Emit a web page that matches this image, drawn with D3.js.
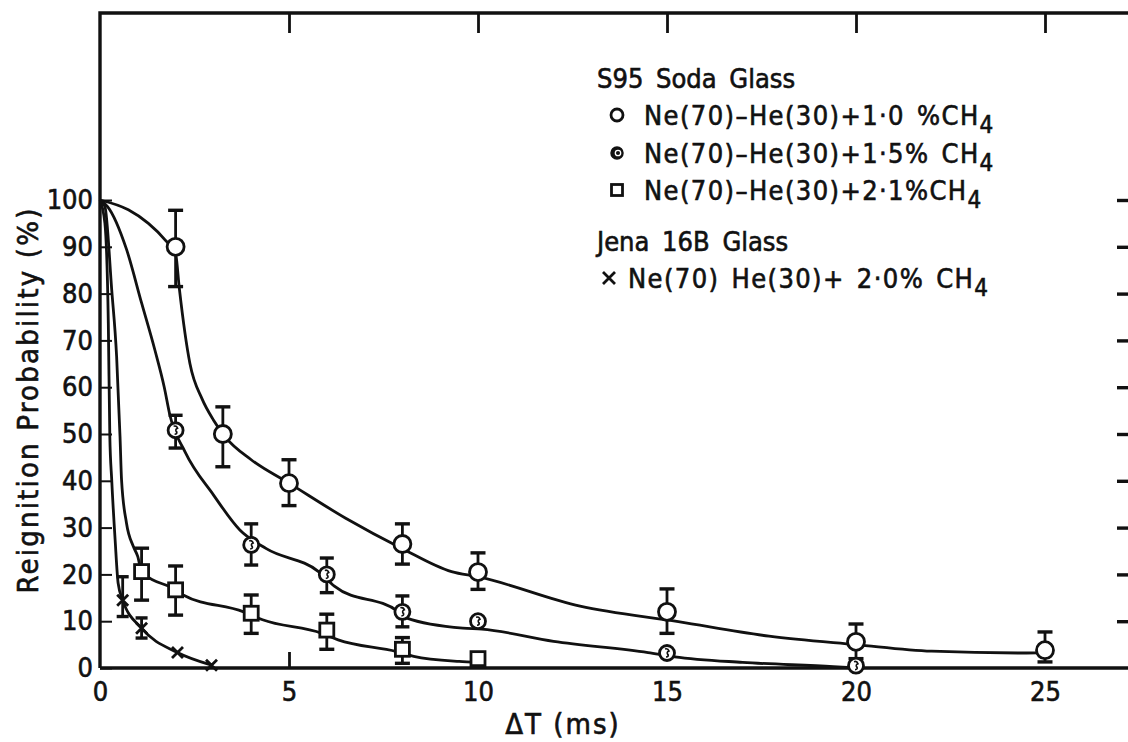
<!DOCTYPE html>
<html>
<head>
<meta charset="utf-8">
<script src="https://cdn.jsdelivr.net/npm/d3@7"></script>
<style>
  html, body { margin: 0; padding: 0; background: #fff; }
  svg { display: block; }
  text { font-family: "DejaVu Sans Condensed", "DejaVu Sans", sans-serif; font-stretch: condensed; fill: #111; stroke: #111; stroke-width: 0.6px; }
</style>
</head>
<body>
<svg id="chart" width="1128" height="742"></svg>
<script>
// ---------------- data ----------------
const xTickLabels = [0, 5, 10, 15, 20, 25];
const xTopTicks = [5, 10, 15, 20, 25];
const xBottomTicks = [5];
const yTickLabels = [0, 10, 20, 30, 40, 50, 60, 70, 80, 90, 100];
const yRightTicks = [10, 20, 30, 40, 50, 60, 70, 80, 90, 100];

// S95 soda glass, Ne(70)-He(30)+1.0% CH4  (open circles)
const s1X  = [2, 3.25, 5, 8, 10, 15, 20, 25];
const s1Y  = [90, 50, 39.5, 26.5, 20.5, 12, 5.6, 3.8];
const s1Hi = [97.8, 55.8, 44.5, 30.8, 24.6, 16.9, 9.4, 7.7];
const s1Lo = [81.5, 43, 34.7, 22.2, 16.8, 7.4, 2, 1.3];
const s1Curve = [[0,100],[0.75,97.9],[1.28,95],[1.72,91.5],[2,88.5],[2.1,81],[2.38,65],[2.7,57.5],[3,53],[3.3,49.5],[4,44.5],[5,39.5],[6.5,32],[8,25.5],[9.3,20.6],[10,19.5],[12.7,13.2],[15.3,9.9],[17.7,6.8],[20,5],[22,3.6],[24.4,3.2],[25,3.3]];

// S95 soda glass, Ne(70)-He(30)+1.5% CH4  (dotted circles)
const s2X  = [2, 4, 6, 8, 10, 15, 20];
const s2Y  = [50.8, 26.3, 20, 12, 10, 3.2, 0.5];
const s2Hi = [54, 30.8, 23.5, 15.4, null, null, null];
const s2Lo = [47, 22, 16.1, 8.8, null, null, null];
const s2Curve = [[0,100],[0.2,98.6],[0.7,89.5],[1.1,78],[1.45,68],[1.7,60],[1.85,54],[2.25,46.2],[3,37],[3.7,29.5],[4.4,25.5],[5.8,20.5],[6.2,17.5],[7.9,12],[8.1,10.7],[9.6,8.5],[10.1,8.3],[12,5.7],[14.5,3.3],[15.2,2.4],[17,1.2],[19.4,0.3],[20,0]];

// S95 soda glass, Ne(70)-He(30)+2.1% CH4  (squares)
const s3X  = [1.1, 2, 4, 6, 8, 10];
const s3Y  = [20.6, 16.7, 11.7, 8.1, 4, 2];
const s3Hi = [25.6, 21.8, 15.6, 11.5, 6.5, null];
const s3Lo = [14.5, 11.3, 7.4, 4, 1, null];
const s3Curve = [[0,100],[0.13,98.6],[0.31,80.8],[0.44,66.5],[0.53,49.4],[0.57,40.2],[0.7,31],[0.88,26],[1.0,23.8],[1.1,20.6],[2,16.7],[2.2,15.6],[3.8,12],[4.3,10.3],[5.87,7.4],[6.3,6],[7.85,3.5],[8.3,2.5],[9.5,1.4],[10,1.2]];

// Jena 16B glass, Ne(70) He(30)+2.0% CH4  (crosses)
const s4X  = [0.6, 1.1, 2.05, 2.95];
const s4Y  = [14.5, 8.5, 3.3, 0.6];
const s4Hi = [19.5, 10.7, null, null];
const s4Lo = [11, 6.4, null, null];
const s4Curve = [[0,100],[0.13,95],[0.22,73.7],[0.26,49.4],[0.31,40.2],[0.4,27.4],[0.48,18.1],[0.6,14.5],[1.1,8.5],[2.05,3.3],[2.95,0.6]];

const legendHeaders = ["S95 Soda Glass", "Jena 16B Glass"];
const legendItems = [
  {marker: "circle", main: "Ne(70)\u2013He(30)+1\u00b70 %CH", sub: "4"},
  {marker: "dotted", main: "Ne(70)\u2013He(30)+1\u00b75% CH", sub: "4"},
  {marker: "square", main: "Ne(70)\u2013He(30)+2\u00b71%CH", sub: "4"},
  {marker: "cross",  main: "Ne(70) He(30)+ 2\u00b70% CH", sub: "4"}
];

// ---------------- drawing ----------------
const svg = d3.select("#chart");
const x = d3.scaleLinear().domain([0, 25]).range([100, 1045]);
const y = d3.scaleLinear().domain([0, 100]).range([668, 200]);
const yTop = 13, xRight = 1130;
const ink = "#111";
const FONT = '"DejaVu Sans Condensed", "DejaVu Sans", sans-serif';

// frame
svg.append("path")
  .attr("d", `M${x(0)},${y(0)} L${x(0)},${yTop} L${xRight},${yTop}`)
  .attr("fill", "none").attr("stroke", ink).attr("stroke-width", 3.4);
svg.append("line")
  .attr("x1", x(0)).attr("x2", xRight).attr("y1", y(0)).attr("y2", y(0))
  .attr("stroke", ink).attr("stroke-width", 3.4);

// left axis (ticks inward, labels outside)
const leftAxis = svg.append("g").attr("transform", `translate(${x(0)},0)`)
  .call(d3.axisLeft(y).tickValues(yTickLabels).tickSizeInner(-12).tickSizeOuter(0).tickPadding(7));
leftAxis.select(".domain").remove();
leftAxis.selectAll("line").attr("stroke", ink).attr("stroke-width", 2);
leftAxis.selectAll("text").attr("font-size", 27).attr("fill", ink).style("font-family", FONT);

// bottom labels
const bottomAxis = svg.append("g").attr("transform", `translate(0,${y(0)})`)
  .call(d3.axisBottom(x).tickValues(xTickLabels).tickSize(0).tickPadding(14).tickFormat(d3.format("d")));
bottomAxis.select(".domain").remove();
bottomAxis.selectAll("text").attr("font-size", 27).attr("fill", ink).style("font-family", FONT);
// bottom inward tick marks
const bottomTicks = svg.append("g").attr("transform", `translate(0,${y(0)})`)
  .call(d3.axisTop(x).tickValues(xBottomTicks).tickSize(16).tickFormat(""));
bottomTicks.select(".domain").remove();
bottomTicks.selectAll("line").attr("stroke", ink).attr("stroke-width", 2.8);

// top ticks (downward)
const topAxis = svg.append("g").attr("transform", `translate(0,${yTop})`)
  .call(d3.axisBottom(x).tickValues(xTopTicks).tickSize(20).tickFormat(""));
topAxis.select(".domain").remove();
topAxis.selectAll("line").attr("stroke", ink).attr("stroke-width", 2.8);

// right ticks
const rightAxis = svg.append("g").attr("transform", `translate(${xRight},0)`)
  .call(d3.axisLeft(y).tickValues(yRightTicks).tickSize(13).tickFormat(""));
rightAxis.select(".domain").remove();
rightAxis.selectAll("line").attr("stroke", ink).attr("stroke-width", 3.4);

// axis titles
svg.append("text").attr("x", 563).attr("y", 734).attr("text-anchor", "middle")
  .attr("font-size", 29).attr("letter-spacing", 2).text("\u0394T (ms)");
svg.append("text").attr("transform", "translate(38,400) rotate(-90)")
  .attr("text-anchor", "middle").attr("font-size", 29).attr("letter-spacing", 2.2)
  .text("Reignition Probability (%)");

// curves
const line = d3.line().x(d => x(d[0])).y(d => y(d[1])).curve(d3.curveMonotoneX);
[s1Curve, s2Curve, s3Curve, s4Curve].forEach(c => {
  svg.append("path").attr("d", line(c)).attr("fill", "none")
    .attr("stroke", ink).attr("stroke-width", 2.8);
});

// error bars
function errorBars(xs, his, los, cap) {
  const g = svg.append("g").attr("stroke", ink).attr("stroke-width", 2.8);
  xs.forEach((xv, i) => {
    if (his[i] == null) return;
    const cx = x(xv), yh = y(his[i]), yl = y(los[i]);
    g.append("line").attr("x1", cx).attr("x2", cx).attr("y1", yh).attr("y2", yl);
    g.append("line").attr("x1", cx - cap).attr("x2", cx + cap).attr("y1", yh).attr("y2", yh).attr("stroke-width", 3.4);
    g.append("line").attr("x1", cx - cap).attr("x2", cx + cap).attr("y1", yl).attr("y2", yl).attr("stroke-width", 3.4);
  });
}
errorBars(s1X, s1Hi, s1Lo, 7.5);
errorBars(s2X, s2Hi, s2Lo, 7);
errorBars(s3X, s3Hi, s3Lo, 7.5);
errorBars(s4X, s4Hi, s4Lo, 6);

// marker helpers
function drawMarker(g, type, cx, cy, size, legend) {
  if (type === "circle") {
    g.append("circle").attr("cx", cx).attr("cy", cy).attr("r", size)
      .attr("fill", "#fff").attr("stroke", ink).attr("stroke-width", 2.8);
  } else if (type === "dotted") {
    if (legend) {
      g.append("circle").attr("cx", cx).attr("cy", cy).attr("r", size)
        .attr("fill", ink).attr("stroke", ink).attr("stroke-width", 1.5);
      g.append("circle").attr("cx", cx + 1).attr("cy", cy).attr("r", size * 0.45)
        .attr("fill", "none").attr("stroke", "#fff").attr("stroke-width", 1.3);
    } else {
      g.append("circle").attr("cx", cx).attr("cy", cy).attr("r", size)
        .attr("fill", "#fff").attr("stroke", ink).attr("stroke-width", 2.8);
      g.append("path")
        .attr("d", `M${cx - 2},${cy - 4} q3,-1 4,2 q-3,1 -1,4 M${cx + 1},${cy + 1} q1,3 -2,3`)
        .attr("fill", "none").attr("stroke", ink).attr("stroke-width", 1.6);
    }
  } else if (type === "square") {
    g.append("rect").attr("x", cx - size).attr("y", cy - size)
      .attr("width", 2 * size).attr("height", 2 * size)
      .attr("fill", "#fff").attr("stroke", ink).attr("stroke-width", 2.8);
  } else if (type === "cross") {
    g.append("path")
      .attr("d", `M${cx - size},${cy - size} L${cx + size},${cy + size} M${cx + size},${cy - size} L${cx - size},${cy + size}`)
      .attr("stroke", ink).attr("stroke-width", 2.8).attr("fill", "none");
  }
}
function drawSeries(xs, ys, type, size) {
  const g = svg.append("g");
  xs.forEach((xv, i) => drawMarker(g, type, x(xv), y(ys[i]), size, false));
}
drawSeries(s3X, s3Y, "square", 7);
drawSeries(s4X, s4Y, "cross", 5.5);
drawSeries(s2X, s2Y, "dotted", 7.5);
drawSeries(s1X, s1Y, "circle", 8.5);

// legend
const lg = svg.append("g");
lg.append("text").attr("x", 597).attr("y", 88).attr("font-size", 27).attr("word-spacing", 5).text(legendHeaders[0]);
lg.append("text").attr("x", 597).attr("y", 251).attr("font-size", 27).attr("word-spacing", 5).text(legendHeaders[1]);
const rows = [
  {cy: 115, mx: 617, tx: 644},
  {cy: 153, mx: 617, tx: 644},
  {cy: 190, mx: 617, tx: 644},
  {cy: 278, mx: 609, tx: 628}
];
const legendSizes = {circle: 6, dotted: 6, square: 5.5, cross: 6};
legendItems.forEach((it, i) => {
  const r = rows[i];
  drawMarker(lg, it.marker, r.mx, r.cy, legendSizes[it.marker], true);
  const t = lg.append("text").attr("x", r.tx).attr("y", r.cy + 10).attr("font-size", 27)
    .attr("letter-spacing", 1.4).attr("word-spacing", 3);
  t.append("tspan").text(it.main);
  t.append("tspan").attr("dy", 8).attr("font-size", 24).text(it.sub);
});
</script>
</body>
</html>
